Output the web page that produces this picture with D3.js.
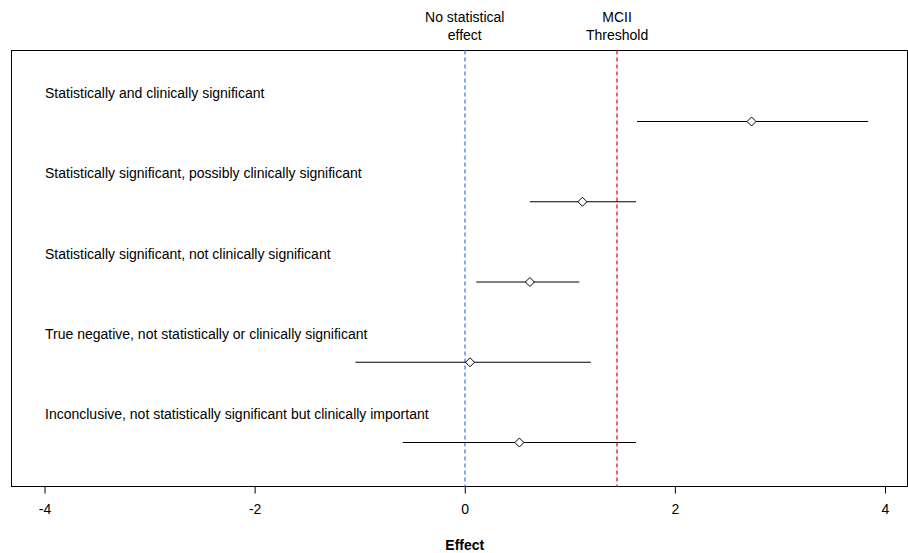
<!DOCTYPE html>
<html>
<head>
<meta charset="utf-8">
<script src="https://cdn.jsdelivr.net/npm/d3@7"></script>
<style>
body { margin: 0; background: #fff; }
svg { font-family: "Liberation Sans", Arial, sans-serif; }
</style>
</head>
<body>
<svg id="chart" width="908" height="553"></svg>
<script>
// data
var labels = [
    "Statistically and clinically significant",
    "Statistically significant, possibly clinically significant",
    "Statistically significant, not clinically significant",
    "True negative, not statistically or clinically significant",
    "Inconclusive, not statistically significant but clinically important"
];
var estimates = [2.73, 1.12, 0.62, 0.05, 0.52];
var lower = [1.64, 0.62, 0.11, -1.04, -0.59];
var upper = [3.84, 1.63, 1.09, 1.20, 1.63];
var xTicks = [-4, -2, 0, 2, 4];
var noEffect = 0;
var mcii = 1.45;

var svg = d3.select("#chart"),
    box = {left: 11.5, right: 907.5, top: 50.5, bottom: 486.5};

var x = d3.scaleLinear().domain([-4, 4]).range([44.5, 885]);
var y = d3.scalePoint()
    .domain(d3.range(labels.length))
    .range([121, 442]);

var rows = labels.map(function (d, i) {
    return {label: d, est: estimates[i], lo: lower[i], hi: upper[i], i: i};
});

// plot frame
svg.append("rect")
    .attr("x", box.left)
    .attr("y", box.top)
    .attr("width", box.right - box.left)
    .attr("height", box.bottom - box.top)
    .attr("fill", "none")
    .attr("stroke", "#000")
    .attr("stroke-width", 1);

// reference lines (dashed, coloured)
var refs = [
    {v: noEffect, color: "rgb(100,150,235)"},
    {v: mcii, color: "rgb(240,60,60)"}
];
svg.selectAll(".ref")
    .data(refs)
    .enter().append("line")
    .attr("class", "ref")
    .attr("x1", function (d) { return Math.round(x(d.v)); })
    .attr("x2", function (d) { return Math.round(x(d.v)); })
    .attr("y1", box.top).attr("y2", box.bottom)
    .attr("stroke", function (d) { return d.color; })
    .attr("stroke-width", 1.6)
    .attr("stroke-dasharray", "4,3");

// top annotations
var topText = svg.append("g")
    .attr("font-size", 14)
    .attr("text-anchor", "middle")
    .attr("fill", "#000");

topText.append("text").attr("x", x(noEffect)).attr("y", 22).text("No statistical");
topText.append("text").attr("x", x(noEffect)).attr("y", 40).text("effect");
topText.append("text").attr("x", x(mcii)).attr("y", 22).text("MCII");
topText.append("text").attr("x", x(mcii)).attr("y", 40).text("Threshold");

// rows
var row = svg.selectAll(".row")
    .data(rows)
    .enter().append("g")
    .attr("class", "row");

row.append("text")
    .attr("x", 45)
    .attr("y", function (d) { return y(d.i) - 23; })
    .attr("font-size", 14)
    .attr("fill", "#000")
    .text(function (d) { return d.label; });

row.append("line")
    .attr("x1", function (d) { return x(d.lo); })
    .attr("x2", function (d) { return x(d.hi); })
    .attr("y1", function (d) { return y(d.i) + 0.5; })
    .attr("y2", function (d) { return y(d.i) + 0.5; })
    .attr("stroke", "#000")
    .attr("stroke-width", 1);

row.append("path")
    .attr("d", "M0,-4.5L4.5,0L0,4.5L-4.5,0Z")
    .attr("transform", function (d) { return "translate(" + x(d.est) + "," + (y(d.i) + 0.5) + ")"; })
    .attr("fill", "#fff")
    .attr("stroke", "#000")
    .attr("stroke-width", 1);

// x axis
var axis = svg.append("g")
    .attr("transform", "translate(0," + box.bottom + ")")
    .call(d3.axisBottom(x).tickValues(xTicks).tickSize(7).tickPadding(11).tickFormat(d3.format("d")));

axis.select(".domain").remove();
axis.selectAll("text")
    .attr("font-size", 14)
    .attr("font-family", "Liberation Sans, Arial, sans-serif")
    .attr("fill", "#000")
    .text(function (d) { return d < 0 ? "-" + Math.abs(d) : d; });
axis.selectAll("line").attr("stroke", "#000");

svg.append("text")
    .attr("x", x(0))
    .attr("y", 550)
    .attr("text-anchor", "middle")
    .attr("font-size", 14)
    .attr("font-weight", "bold")
    .attr("fill", "#000")
    .text("Effect");
</script>
</body>
</html>
